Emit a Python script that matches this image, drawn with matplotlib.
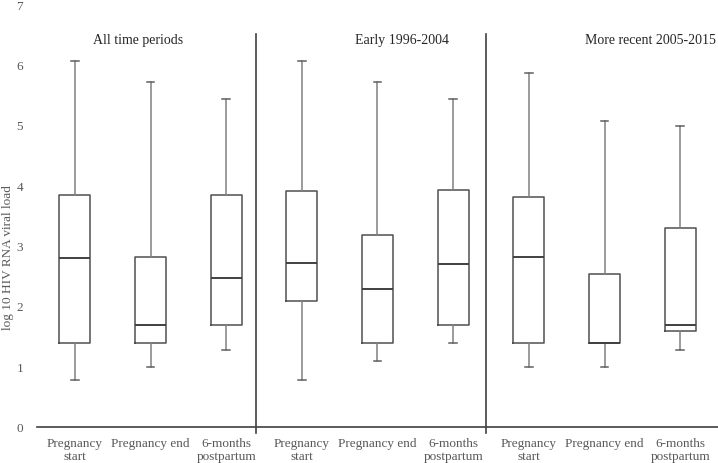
import matplotlib.pyplot as plt

plt.rcParams['font.family'] = ['Liberation Serif', 'DejaVu Serif']

periods = ['All time periods', 'Early 1996-2004', 'More recent 2005-2015']
timepoints = ['Pregnancy\nstart', 'Pregnancy end', '6-months\npostpartum']

# five-number summaries per box (log10 viral load)
whislo = [0.78, 1.00, 1.28, 0.78, 1.10, 1.40, 1.00, 1.00, 1.28]
q1 = [1.40, 1.40, 1.70, 2.09, 1.40, 1.70, 1.40, 1.40, 1.60]
med = [2.80, 1.70, 2.48, 2.72, 2.30, 2.71, 2.83, 1.39, 1.70]
q3 = [3.85, 2.82, 3.86, 3.92, 3.19, 3.93, 3.82, 2.55, 3.30]
whishi = [6.07, 5.72, 5.44, 6.07, 5.72, 5.44, 5.88, 5.08, 4.99]

stats = []
for i in range(len(med)):
    stats.append(dict(whislo=whislo[i], q1=q1[i], med=med[i], q3=q3[i],
                      whishi=whishi[i], fliers=[]))

fig = plt.figure(figsize=(7.18, 4.63), dpi=100)
ax = fig.add_axes([37 / 718, (463 - 427.3) / 463, 1 - 37 / 718, 422.1 / 463])

pos = list(range(len(med)))
ax.bxp(stats, positions=pos, widths=0.41, capwidths=0.1, showfliers=False,
       boxprops=dict(color='#505050', linewidth=1.1),
       medianprops=dict(color='#404040', linewidth=1.4),
       whiskerprops=dict(color='#808080', linewidth=1.1),
       capprops=dict(color='#606060', linewidth=1.1))

ax.set_xlim(-0.5, 8.5)
ax.set_ylim(0, 7)
ax.set_xticks(pos)
ax.set_xticklabels(timepoints * 3, fontsize=9.5, color='#595959', linespacing=1.1)
ax.set_yticks(range(8))
ax.tick_params(axis='both', length=0, labelsize=9.5, labelcolor='#595959')
ax.tick_params(axis='x', pad=8)
ax.tick_params(axis='y', pad=10)

for s in ['top', 'right', 'left']:
    ax.spines[s].set_visible(False)
ax.spines['bottom'].set_color('#404040')
ax.spines['bottom'].set_linewidth(1.2)

# group separators
for xs in [2.40, 5.43]:
    ax.plot([xs, xs], [-0.1, 6.52], color='#404040', linewidth=1.2, clip_on=False)

title_x = [0.84, 4.33, 7.61]
for tx, p in zip(title_x, periods):
    ax.text(tx, 6.41, p, ha='center', va='center', fontsize=10, color='#262626')

fig.text(8 / 718, 1 - 258 / 463, 'log 10 HIV RNA viral load', rotation=90,
         ha='center', va='center', fontsize=9.5, color='#595959')

fig.savefig('out.png', dpi=100)
